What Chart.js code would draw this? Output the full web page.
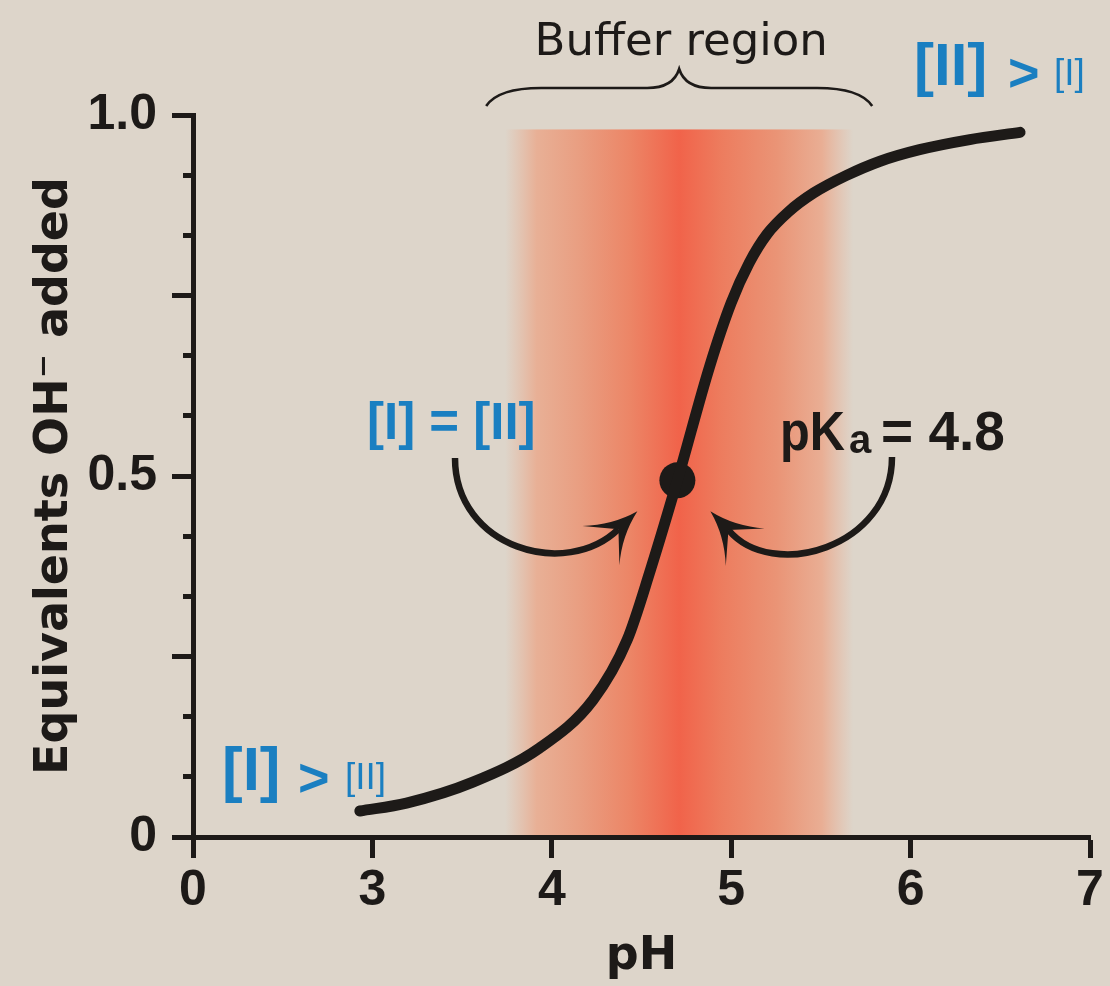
<!DOCTYPE html>
<html>
<head>
<meta charset="utf-8">
<script src="https://cdn.jsdelivr.net/npm/chart.js@4.4.1/dist/chart.umd.min.js"></script>
<style>
  html, body { margin: 0; padding: 0; background: #ddd5ca; }
  #wrap { width: 1110px; height: 986px; }
</style>
</head>
<body>
<div id="wrap"><canvas id="chart"></canvas></div>
<script>
// ── Data ──────────────────────────────────────────────────
const phValues    = [2.93, 3.19, 3.56, 3.93, 4.23, 4.42, 4.55, 4.70, 4.88, 5.00, 5.10, 5.20, 5.32, 5.46, 5.64, 5.83, 6.05, 6.33, 6.61];
const ohAdded     = [0.036, 0.047, 0.076, 0.123, 0.19, 0.273, 0.37, 0.494, 0.652, 0.74, 0.795, 0.835, 0.866, 0.892, 0.916, 0.936, 0.952, 0.966, 0.976];
const midPoint    = [4.70, 0.494];
const bufferRange = [3.74, 5.68];
const bufferTop   = 0.98;

// x axis is broken: the first tick (2) is labelled 0
const xTickValues = [2, 3, 4, 5, 6, 7];
const xTickLabels = ['0', '3', '4', '5', '6', '7'];
const yMajorTicks = [0, 0.25, 0.5, 0.75, 1];
const yTickLabels = ['0', '', '0.5', '', '1.0'];
const yMinorSplit = 3;

const INK  = '#1d1a18';
const BLUE = '#1a7fc1';
const BG   = '#ddd5ca';
const SANS = "'Liberation Sans', Arial, sans-serif";
const DEJA = "'DejaVu Sans', sans-serif";

const yTickValues = [];
yMajorTicks.forEach((m, i) => {
  yTickValues.push(m);
  if (i < yMajorTicks.length - 1) {
    const step = (yMajorTicks[i + 1] - m) / yMinorSplit;
    for (let k = 1; k < yMinorSplit; k++) yTickValues.push(m + step * k);
  }
});
const isMajor = v => yMajorTicks.some(m => Math.abs(m - v) < 1e-6);

// ── Background + buffer band ──────────────────────────────
const backdrop = {
  id: 'backdrop',
  beforeDraw(chart) {
    const { ctx, scales: { x, y } } = chart;
    ctx.save();
    ctx.fillStyle = BG;
    ctx.fillRect(0, 0, chart.width, chart.height);
    const x0 = x.getPixelForValue(bufferRange[0]);
    const x1 = x.getPixelForValue(bufferRange[1]);
    const yT = y.getPixelForValue(bufferTop);
    const yB = y.getPixelForValue(0) - 2;
    const g = ctx.createLinearGradient(x0, 0, x1, 0);
    g.addColorStop(0.00, 'rgba(232,180,155,0)');
    g.addColorStop(0.09, 'rgba(232,176,150,1)');
    g.addColorStop(0.22, '#e99d80');
    g.addColorStop(0.36, '#ec8566');
    g.addColorStop(0.50, '#f1634a');
    g.addColorStop(0.62, '#ed7c5e');
    g.addColorStop(0.78, '#ea9476');
    g.addColorStop(0.91, 'rgba(233,174,148,1)');
    g.addColorStop(1.00, 'rgba(233,180,155,0)');
    ctx.fillStyle = g;
    ctx.fillRect(x0, yT, x1 - x0, yB - yT);
    ctx.restore();
  }
};

// ── Labels, brace and arrows ──────────────────────────────
function txt(ctx, s, x, y, font, color, sx) {
  ctx.save();
  ctx.font = font;
  ctx.fillStyle = color || INK;
  ctx.translate(x, y);
  ctx.scale(sx || 1, 1);
  ctx.fillText(s, 0, 0);
  ctx.restore();
}

function arrow(ctx, p0, p1, p2, tip, dir) {
  const len = Math.hypot(dir[0], dir[1]);
  const d = [dir[0] / len, dir[1] / len];
  const n = [-d[1], d[0]];
  const at = (back, side) => [tip[0] - back * d[0] + side * n[0], tip[1] - back * d[1] + side * n[1]];
  const notch = at(26, 0);
  ctx.beginPath();
  ctx.moveTo(p0[0], p0[1]);
  ctx.bezierCurveTo(p1[0], p1[1], p2[0], p2[1], notch[0], notch[1]);
  ctx.lineWidth = 6.5;
  ctx.strokeStyle = INK;
  ctx.stroke();
  const b1 = at(50, 27), b2 = at(50, -27);
  const c1 = at(28, 7), c2 = at(28, -7);
  ctx.beginPath();
  ctx.moveTo(tip[0], tip[1]);
  ctx.quadraticCurveTo(c1[0], c1[1], b1[0], b1[1]);
  ctx.lineTo(notch[0], notch[1]);
  ctx.lineTo(b2[0], b2[1]);
  ctx.quadraticCurveTo(c2[0], c2[1], tip[0], tip[1]);
  ctx.closePath();
  ctx.fillStyle = INK;
  ctx.fill();
}

const notes = {
  id: 'notes',
  afterDraw(chart) {
    const { ctx, scales: { x, y } } = chart;
    const px = x.getPixelForValue(midPoint[0]);
    const py = y.getPixelForValue(midPoint[1]);
    const x0 = x.getPixelForValue(bufferRange[0]);
    const x1 = x.getPixelForValue(bufferRange[1]);
    const bc = (x0 + x1) / 2;
    ctx.save();
    ctx.textBaseline = 'alphabetic';
    ctx.textAlign = 'left';

    // Buffer region brace
    const bl = bc - 193, br = bc + 193, by = 88;
    ctx.beginPath();
    ctx.moveTo(bl, 106);
    ctx.quadraticCurveTo(bl + 12, by, bl + 55, by);
    ctx.lineTo(bc - 32, by);
    ctx.quadraticCurveTo(bc - 6, by, bc, 69);
    ctx.quadraticCurveTo(bc + 6, by, bc + 32, by);
    ctx.lineTo(br - 55, by);
    ctx.quadraticCurveTo(br - 12, by, br, 106);
    ctx.lineWidth = 2.6;
    ctx.strokeStyle = INK;
    ctx.stroke();
    ctx.textAlign = 'center';
    txt(ctx, 'Buffer region', bc + 2, 55, '45px ' + DEJA);
    ctx.textAlign = 'left';

    // [II] > [I]
    txt(ctx, '[II]', 914, 85, 'bold 60px ' + SANS, BLUE);
    txt(ctx, '>', 1008, 91, 'bold 54px ' + SANS, BLUE);
    txt(ctx, '[I]', 1054, 85, '37px ' + SANS, BLUE);

    // [I] > [II]
    txt(ctx, '[I]', 222, 790, 'bold 62px ' + SANS, BLUE);
    txt(ctx, '>', 298, 796, 'bold 54px ' + SANS, BLUE);
    txt(ctx, '[II]', 345, 789, '37px ' + SANS, BLUE);

    // [I] = [II]
    txt(ctx, '[I] = [II]', 367, 439, 'bold 51px ' + SANS, BLUE);

    // pKa = 4.8
    txt(ctx, 'pK', 780, 450, 'bold 56px ' + SANS, INK, 0.87);
    txt(ctx, 'a', 849, 453, 'bold 40px ' + SANS);
    txt(ctx, '= 4.8', 881, 450, 'bold 55px ' + SANS);

    // arrows toward the midpoint
    arrow(ctx, [455, 458], [455, 548], [566, 580], [px - 40, py + 31], [33, -31]);
    arrow(ctx, [892, 457], [892, 548], [772, 582], [px + 33, py + 31], [-31, -32]);
    ctx.restore();
  }
};

// ── Chart ─────────────────────────────────────────────────
new Chart(document.getElementById('chart'), {
  type: 'line',
  data: {
    datasets: [
      {
        data: phValues.map((v, i) => ({ x: v, y: ohAdded[i] })),
        borderColor: INK, borderWidth: 11,
        borderCapStyle: 'round', borderJoinStyle: 'round',
        cubicInterpolationMode: 'monotone',
        pointRadius: 0, fill: false
      },
      {
        data: [{ x: midPoint[0], y: midPoint[1] }],
        showLine: false, pointRadius: 18, pointBorderWidth: 0,
        pointBackgroundColor: INK
      }
    ]
  },
  options: {
    responsive: true, maintainAspectRatio: false, animation: false,
    layout: { padding: { top: 115, right: 20, left: 0, bottom: 0 } },
    plugins: { legend: { display: false }, tooltip: { enabled: false } },
    scales: {
      x: {
        type: 'linear', min: 2, max: 7,
        afterBuildTicks: s => { s.ticks = xTickValues.map(v => ({ value: v })); },
        afterFit: s => { s.height = 149; },
        ticks: {
          callback: v => xTickLabels[xTickValues.indexOf(v)],
          font: { family: SANS, size: 50, weight: 'bold' }, color: INK,
          padding: 3, autoSkip: false, maxRotation: 0
        },
        grid: { drawOnChartArea: false, tickLength: 21, tickWidth: 5, tickColor: INK },
        border: { width: 5, color: INK },
        title: {
          display: true, text: 'pH', color: INK,
          font: { family: DEJA, size: 46, weight: 'bold', lineHeight: 1 },
          padding: { top: 0, bottom: 6 }
        }
      },
      y: {
        type: 'linear', min: 0, max: 1,
        afterBuildTicks: s => { s.ticks = yTickValues.map(v => ({ value: v })); },
        afterFit: s => { s.width = 193; },
        ticks: {
          callback: v => {
            const i = yMajorTicks.findIndex(m => Math.abs(m - v) < 1e-6);
            return i >= 0 ? yTickLabels[i] : '';
          },
          font: { family: SANS, size: 50, weight: 'bold' }, color: INK,
          padding: 15, autoSkip: false
        },
        grid: {
          drawOnChartArea: false, tickLength: 21, tickWidth: 5, tickColor: INK,
          tickBorderDash: c => isMajor(c.tick.value) ? [] : [10, 11],
          tickBorderDashOffset: c => isMajor(c.tick.value) ? 0 : 10
        },
        border: { width: 5, color: INK },
        title: {
          display: true, text: 'Equivalents OH\u207B added', color: INK,
          font: { family: DEJA, size: 46, weight: 'bold', lineHeight: 1 },
          padding: { top: 32, bottom: 0 }
        }
      }
    }
  },
  plugins: [backdrop, notes]
});
</script>
</body>
</html>
